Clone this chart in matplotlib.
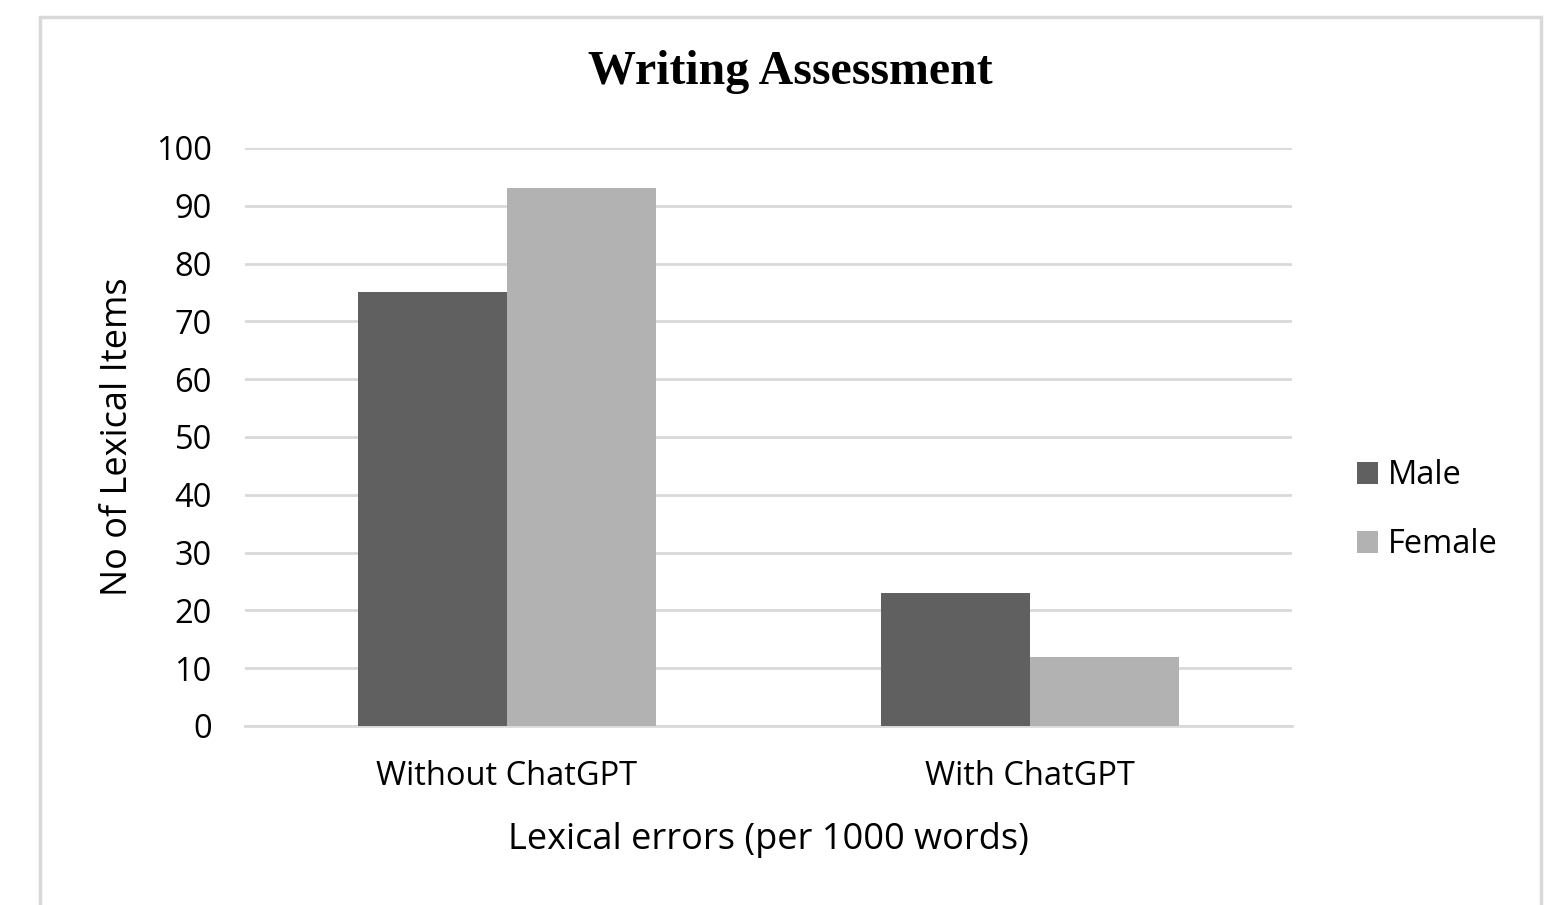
import numpy as np
import matplotlib.pyplot as plt
from matplotlib.patches import Rectangle

# data
categories = ['Without ChatGPT', 'With ChatGPT']
male = [75, 23]
female = [93, 12]
yticks = [0, 10, 20, 30, 40, 50, 60, 70, 80, 90, 100]

male_color = '#606060'
female_color = '#b2b2b2'
grid_color = '#d9d9d9'
sans = ['Open Sans', 'DejaVu Sans']

fig = plt.figure(figsize=(15.53, 9.05), dpi=100)
ax = fig.add_axes([0.1578, 0.1978, 0.6741, 0.6387])

# outer frame (bottom edge is cut off in the reference)
fig.patches.append(Rectangle((40 / 1553, -0.05), 1501 / 1553, 1.05 - 17 / 905,
                             transform=fig.transFigure, fill=False,
                             edgecolor=grid_color, linewidth=2.5))

x = np.arange(len(categories))
w = 0.285
ax.bar(x - w / 2, male, width=w, color=male_color, label='Male', zorder=3)
ax.bar(x + w / 2, female, width=w, color=female_color, label='Female', zorder=3)

ax.set_xlim(-0.5, 1.5)
ax.set_ylim(0, 100)
ax.set_yticks(yticks)
ax.set_xticks(x)
ax.set_xticklabels(categories)
ax.grid(axis='y', color=grid_color, linewidth=2, zorder=0)
for s in ['top', 'right', 'left']:
    ax.spines[s].set_visible(False)
ax.spines['bottom'].set_color(grid_color)
ax.spines['bottom'].set_linewidth(2)
ax.tick_params(length=0, labelsize=23.5)
ax.tick_params(axis='y', pad=24)
ax.tick_params(axis='x', pad=24.5)
for lab in ax.get_xticklabels() + ax.get_yticklabels():
    lab.set_family(sans)

ax.set_ylabel('No of Lexical Items', fontsize=26, family=sans, labelpad=14)
ax.set_xlabel('Lexical errors (per 1000 words)', fontsize=26, family=sans, labelpad=21)
fig.text(790 / 1553, 1 - 72 / 905, 'Writing Assessment', ha='center', va='center',
         fontsize=34.5, fontweight='bold', family=['Liberation Serif', 'DejaVu Serif'])

leg = ax.legend(loc='center left', bbox_to_anchor=(1.062, 0.373), frameon=False,
                prop={'family': sans, 'size': 23.5}, handlelength=0.64, handleheight=0.64,
                handletextpad=0.3, labelspacing=1.1, borderpad=0, borderaxespad=0)

fig.savefig('out.png', dpi=100)
